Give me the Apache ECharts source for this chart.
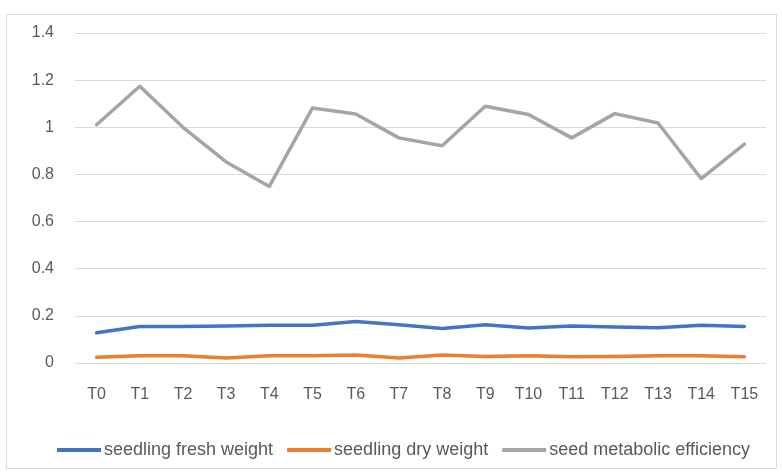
<!DOCTYPE html>
<html><head><meta charset="utf-8">
<script src="https://cdn.jsdelivr.net/npm/echarts@6/dist/echarts.min.js"></script>
<style>html,body{margin:0;padding:0;background:#fff}#c{width:782px;height:474px}</style>
</head><body><div id="c"></div>
<script>
const categories = ['T0','T1','T2','T3','T4','T5','T6','T7','T8','T9','T10','T11','T12','T13','T14','T15'];
const freshWeight = [0.128,0.155,0.155,0.157,0.160,0.160,0.176,0.162,0.146,0.162,0.148,0.157,0.153,0.150,0.160,0.155];
const dryWeight = [0.024,0.031,0.031,0.021,0.031,0.031,0.034,0.021,0.034,0.028,0.031,0.027,0.028,0.031,0.031,0.027];
const metabolicEff = [1.011,1.174,1.0,0.853,0.749,1.082,1.056,0.955,0.922,1.089,1.054,0.955,1.058,1.018,0.782,0.929];
const seriesNames = ['seedling fresh weight','seedling dry weight','seed metabolic efficiency'];
const colors = ['#4472C4','#ED7D31','#A5A5A5'];
const font = 'Liberation Sans, Arial, sans-serif';
const chart = echarts.init(document.getElementById('c'));
const mk = (name, data, color) => ({
  name, type:'line', data, symbol:'none', smooth:false,
  lineStyle:{color, width:3.5, cap:'round', join:'round'}, itemStyle:{color}
});
chart.setOption({
  animation:false,
  color:colors,
  graphic:[{type:'rect', shape:{x:6.5,y:14.5,width:770,height:454}, style:{fill:'none', stroke:'#d9d9d9', lineWidth:1}, silent:true}],
  grid:{left:75, right:16, top:33, bottom:111},
  legend:{
    top:436, left:52, itemWidth:44, itemHeight:4, itemGap:14,
    icon:'rect',
    textStyle:{color:'#595959', fontSize:18, fontFamily:font, padding:[0,0,0,-2]},
    data:seriesNames
  },
  xAxis:{
    type:'category', data:categories, boundaryGap:true,
    axisLine:{show:false}, axisTick:{show:false},
    axisLabel:{color:'#595959', fontSize:16, fontFamily:font, margin:24}
  },
  yAxis:{
    type:'value', min:0, max:1.4, interval:0.2,
    axisLine:{show:false}, axisTick:{show:false},
    splitLine:{lineStyle:{color:'#d9d9d9', width:1}},
    axisLabel:{color:'#595959', fontSize:16, fontFamily:font, margin:21,
      formatter: v => String(parseFloat(v.toFixed(1)))}
  },
  series:[
    mk(seriesNames[0], freshWeight, colors[0]),
    mk(seriesNames[1], dryWeight, colors[1]),
    mk(seriesNames[2], metabolicEff, colors[2])
  ]
});
</script></body></html>
